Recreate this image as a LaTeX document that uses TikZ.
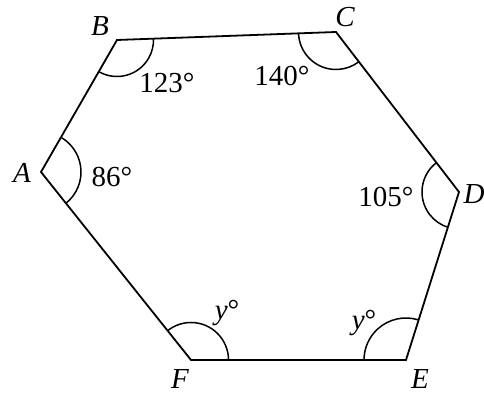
\documentclass[tikz,border=0pt]{standalone}
\usepackage{fontspec}
\setmainfont{Liberation Serif}
\usetikzlibrary{angles}
\begin{document}
\begin{tikzpicture}[x=0.5pt,y=0.5pt,
  edge/.style={line width=0.9pt, line join=miter},
  arcmark/.style={draw, line width=0.75pt},
  lbl/.style={inner sep=0pt, font=\fontsize{14.5}{17}\selectfont},
  vlbl/.style={inner sep=0pt, font=\fontsize{14.5}{17}\selectfont\itshape}]
\useasboundingbox (0,0) rectangle (484,396);
\coordinate (A) at (41,224);
\coordinate (B) at (117,356);
\coordinate (C) at (336,364);
\coordinate (D) at (459,204);
\coordinate (E) at (406,36);
\coordinate (F) at (191,36);
\draw[edge] (A) -- (B) -- (C) -- (D) -- (E) -- (F) -- cycle;
\pic[arcmark, angle radius=20pt] {angle = F--A--B};
\pic[arcmark, angle radius=18.25pt] {angle = A--B--C};
\pic[arcmark, angle radius=18.75pt] {angle = B--C--D};
\pic[arcmark, angle radius=18.5pt] {angle = C--D--E};
\pic[arcmark, angle radius=21pt] {angle = D--E--F};
\pic[arcmark, angle radius=18.75pt] {angle = E--F--A};
\node[vlbl] (lA) at (22,223) {A};
\node[vlbl] (lB) at (100,370) {B};
\node[vlbl] (lC) at (345,379) {C};
\node[vlbl] (lD) at (474,202) {D};
\node[vlbl] (lE) at (420,17) {E};
\node[vlbl] (lF) at (180,17) {F};
\node[lbl] (aA) at (112,219) {86°};
\node[lbl] (aB) at (167,313) {123°};
\node[lbl] (aC) at (282,320) {140°};
\node[lbl] (aD) at (386,199) {105°};
\node[lbl] (aF) at (227,83) {\textit{y}°};
\node[lbl] (aE) at (364,73) {\textit{y}°};
\end{tikzpicture}
\end{document}
